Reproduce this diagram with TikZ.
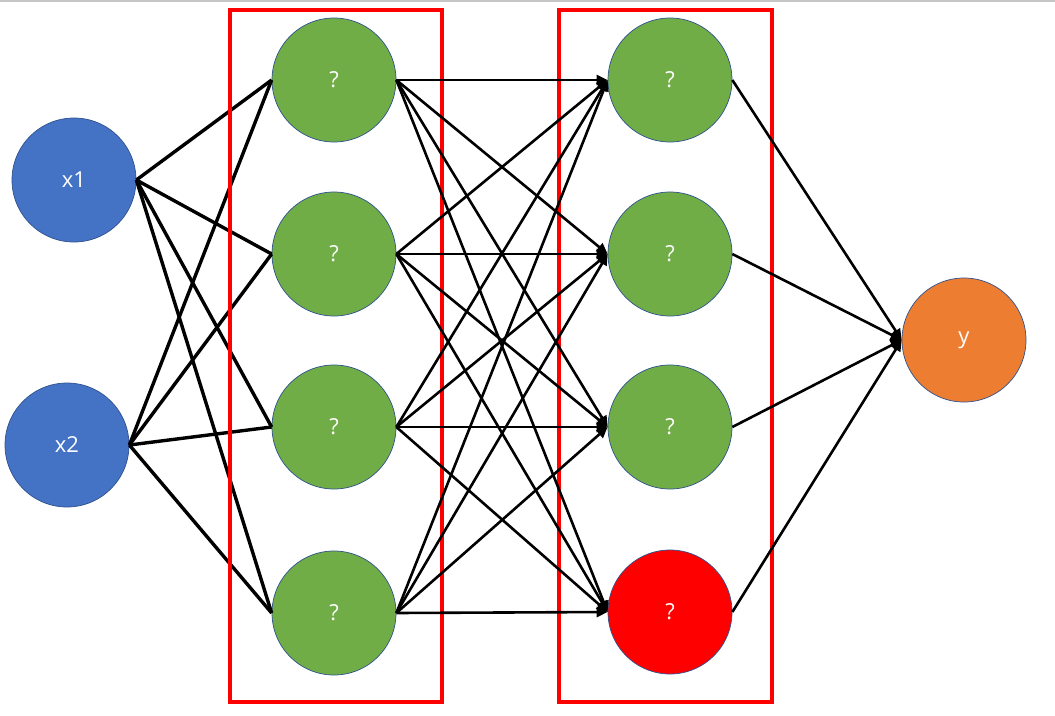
\documentclass[tikz,border=0pt]{standalone}
\usepackage{fontspec}
\setmainfont{Open Sans}
\usetikzlibrary{arrows.meta}
\definecolor{inblue}{HTML}{4472C4}
\definecolor{hgreen}{HTML}{70AD47}
\definecolor{outorange}{HTML}{ED7D31}
\definecolor{edgeblue}{HTML}{2F528F}
\begin{document}
\begin{tikzpicture}[x=1pt,y=-1pt,
  neuron/.style={circle,draw=edgeblue,line width=0.7pt,minimum size=124pt,inner sep=0pt,
    text=white,font=\fontsize{22}{26}\selectfont},
  inlink/.style={line width=3.4pt},
  arrowlink/.style={line width=2.6pt,-{Triangle[length=11pt,width=10pt]}},
  layerbox/.style={draw=red,line width=3.6pt}]
\useasboundingbox (0,0) rectangle (1055,715);
\draw[gray!45,line width=1.5pt] (0,0.75) -- (1055,0.75);
% nodes
\node[neuron,fill=inblue] (x1) at (74,180) {x1};
\node[neuron,fill=inblue] (x2) at (67,445) {x2};
\node[neuron,fill=hgreen] (a1) at (334,80) {?};
\node[neuron,fill=hgreen] (a2) at (334,254) {?};
\node[neuron,fill=hgreen] (a3) at (334,427) {?};
\node[neuron,fill=hgreen] (a4) at (334,613) {?};
\node[neuron,fill=hgreen] (b1) at (670,80) {?};
\node[neuron,fill=hgreen] (b2) at (670,254) {?};
\node[neuron,fill=hgreen] (b3) at (670,427) {?};
\node[neuron,fill=red] (b4) at (670,612) {?};
\node[neuron,fill=outorange] (y) at (964,340) {y};
% links
\foreach \i in {x1,x2}{
  \foreach \j in {a1,a2,a3,a4}{
    \draw[inlink] (\i.east) -- (\j.west);
  }
}
\draw[layerbox] (230,10) rectangle (442,702);
\draw[layerbox] (559,10) rectangle (772,702);
\foreach \i in {a1,a2,a3,a4}{
  \foreach \j in {b1,b2,b3,b4}{
    \draw[arrowlink] (\i.east) -- (\j.west);
  }
}
\foreach \i in {b1,b2,b3,b4}{
  \draw[arrowlink] (\i.east) -- (y.west);
}
\end{tikzpicture}
\end{document}
